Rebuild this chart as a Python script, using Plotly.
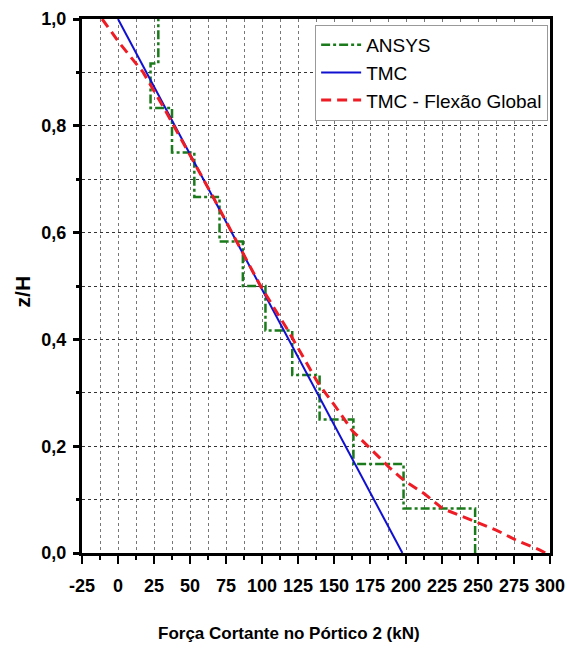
import plotly.graph_objects as go

# Storey boundaries (12 storeys) and ANSYS shear per storey, bottom to top (kN)
storey_levels = [i / 12 for i in range(13)]
ansys_shear = [248, 198.3, 163.5, 140, 121, 102.4, 86.7, 70.5, 53, 37.5, 22.6, 28]

# TMC (linear shear distribution)
tmc_z = [1.0, 0.0]
tmc_shear = [0.0, 197.5]

# TMC with global bending
flex_z = [1.0, 0.955, 0.9, 0.833, 0.75, 0.667, 0.583, 0.5, 0.417, 0.318,
          0.277, 0.228, 0.197, 0.160, 0.135, 0.111, 0.083, 0.070, 0.058,
          0.043, 0.024, 0.006, 0.0]
flex_shear = [-11, 1, 17.5, 32, 49, 66, 82.5, 99, 118, 139,
              150.3, 163, 174.7, 188.5, 199, 212.8, 225.5, 237, 248.7,
              262.6, 276.5, 292.7, 297]

x_ticks = list(range(-25, 301, 25))
y_ticks = [0.0, 0.2, 0.4, 0.6, 0.8, 1.0]

SANS = "Liberation Sans, Arial, sans-serif"

# staircase: each storey value held between its lower and upper level
step_x = ansys_shear + [ansys_shear[-1]]
step_y = storey_levels

fig = go.Figure()
fig.add_trace(go.Scatter(
    x=step_x, y=step_y, mode="lines", name="ANSYS", line_shape="vh",
    line=dict(color="#1b7a1b", width=2.5, dash="dashdot"),
))
fig.add_trace(go.Scatter(
    x=tmc_shear, y=tmc_z, mode="lines", name="TMC",
    line=dict(color="#1010d0", width=2),
))
fig.add_trace(go.Scatter(
    x=flex_shear, y=flex_z, mode="lines", name="TMC - Flexão Global",
    line=dict(color="#ee1c25", width=3, dash="10px,6px"),
))

fig.update_layout(
    width=567, height=650,
    margin=dict(l=82, r=17, t=19, b=97),
    paper_bgcolor="white", plot_bgcolor="white",
    separators=",.",
    font=dict(family=SANS, color="black"),
    showlegend=True,
    legend=dict(
        x=0.996, y=0.989, xanchor="right", yanchor="top",
        bgcolor="white", bordercolor="#999999", borderwidth=1,
        font=dict(family=SANS, size=19, color="black"),
        tracegroupgap=0, itemwidth=40,
    ),
    xaxis=dict(
        range=[-25, 300], tickmode="array", tickvals=x_ticks,
        ticktext=[str(v) for v in x_ticks], tickangle=0, automargin=False,
        showline=True, linewidth=3, linecolor="black", mirror=True,
        ticks="outside", ticklen=8, tickwidth=2, tickcolor="black",
        ticklabelstandoff=6,
        tickfont=dict(family=SANS, size=18, color="black", weight="bold"),
        showgrid=True, gridcolor="#777777", griddash="dot", gridwidth=1,
        zeroline=False,
        minor=dict(dtick=12.5, tick0=-25, ticks="outside", ticklen=4,
                   tickwidth=2, tickcolor="black", showgrid=True,
                   gridcolor="#777777", griddash="dot", gridwidth=1),
    ),
    yaxis=dict(
        range=[0, 1], tickmode="array", tickvals=y_ticks,
        ticktext=[f"{v:.1f}".replace(".", ",") for v in y_ticks],
        automargin=False,
        showline=True, linewidth=3, linecolor="black", mirror=True,
        ticks="outside", ticklen=6, tickwidth=3, tickcolor="black",
        ticklabelstandoff=3,
        tickfont=dict(family=SANS, size=18, color="black", weight="bold"),
        showgrid=True, gridcolor="#333333", griddash="dot", gridwidth=1,
        zeroline=False,
        minor=dict(dtick=0.1, tick0=0, ticks="outside", ticklen=3,
                   tickwidth=3, tickcolor="black", showgrid=True,
                   gridcolor="#333333", griddash="dot", gridwidth=1),
    ),
    annotations=[
        dict(text="<b>Força Cortante no Pórtico 2 (kN)</b>", xref="paper",
             yref="paper", x=0.442, y=-0.15, xanchor="center",
             yanchor="middle", showarrow=False,
             font=dict(family=SANS, size=17, color="black")),
        dict(text="<b>z/H</b>", xref="paper", yref="paper", x=-0.128,
             y=0.49, xanchor="center", yanchor="middle", textangle=-90,
             showarrow=False,
             font=dict(family=SANS, size=21, color="black")),
    ],
)

fig.write_html("out.html")
